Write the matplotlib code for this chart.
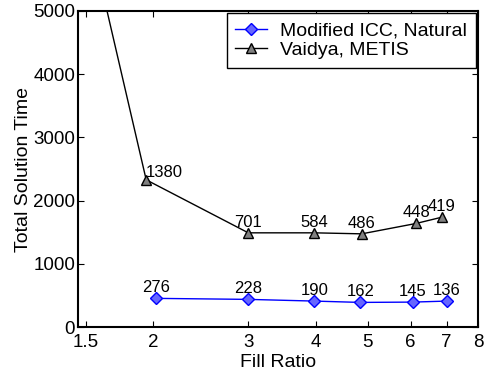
import numpy as np
import matplotlib.pyplot as plt
from matplotlib.ticker import FixedLocator, NullLocator

plt.rcParams['font.family'] = ['Liberation Sans', 'DejaVu Sans']

# data
icc_x = [2.02, 3.0, 3.98, 4.84, 6.05, 7.0]
icc_y = [453, 437, 410, 389, 394, 410]
icc_lab = ['276', '228', '190', '162', '145', '136']

vai_x = [1.5, 1.94, 3.0, 3.98, 4.87, 6.14, 6.86]
vai_y = [6440, 2329, 1490, 1490, 1474, 1638, 1738]
vai_lab = [None, '1380', '701', '584', '486', '448', '419']

xticks = [1.5, 2, 3, 4, 5, 6, 7, 8]
yticks = [0, 1000, 2000, 3000, 4000, 5000]

fig = plt.figure(figsize=(4.85, 3.72), dpi=100)
ax = fig.add_axes([78/485, 1-327/372, 400/485, 316/372])

ax.plot(icc_x, icc_y, '-D', color='#0000ff', mfc='#6666ff', mec='#0000ff',
        ms=6, lw=1, label='Modified ICC, Natural')
ax.plot(vai_x, vai_y, '-^', color='black', mfc='#808080', mec='black',
        ms=7, lw=1, label='Vaidya, METIS')

for x, y, t in zip(icc_x, icc_y, icc_lab):
    ax.annotate(t, (x, y), xytext=(0, 4.5), textcoords='offset points',
                ha='center', va='baseline', fontsize=12)
for x, y, t in zip(vai_x, vai_y, vai_lab):
    if t is None:
        continue
    if t == '1380':
        ax.annotate(t, (x, y), xytext=(0, 2), textcoords='offset points',
                    ha='left', va='baseline', fontsize=12)
    else:
        ax.annotate(t, (x, y), xytext=(0, 4.5), textcoords='offset points',
                    ha='center', va='baseline', fontsize=12)

ax.set_xscale('log')
ax.set_xlim(1.45, 8)
ax.set_ylim(0, 5000)
ax.xaxis.set_major_locator(FixedLocator(xticks))
ax.xaxis.set_minor_locator(NullLocator())
ax.set_xticklabels([str(t) for t in xticks])
ax.set_yticks(yticks)
ax.tick_params(direction='in', top=True, right=True, labelsize=13.5, length=4, pad=2)
ax.tick_params(axis='x', pad=5)
for s in ax.spines.values():
    s.set_linewidth(1.5)

ax.set_xlabel('Fill Ratio', fontsize=14, labelpad=2)
ax.set_ylabel('Total Solution Time', fontsize=14, labelpad=1)

leg = ax.legend(loc='upper right', fontsize=14, fancybox=False, framealpha=1,
                edgecolor='black', borderpad=0.45, labelspacing=0.1,
                handlelength=1.65, handletextpad=0.65, borderaxespad=0.12)
leg.get_frame().set_linewidth(1)

fig.savefig('out.png', dpi=100)
